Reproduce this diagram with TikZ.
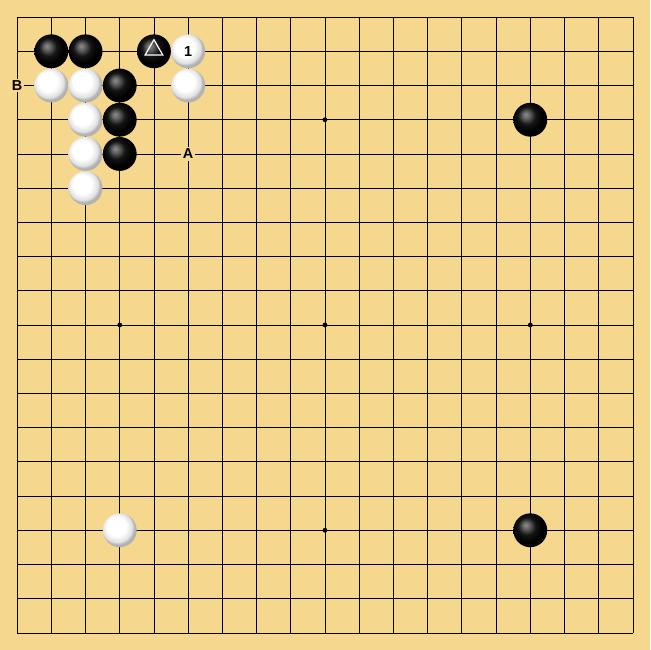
\documentclass[tikz,border=0pt]{standalone}
\usepackage{tikz}
\usepackage{fontspec}
\setsansfont{Liberation Sans}
\usetikzlibrary{positioning,shapes.geometric}
\definecolor{board}{RGB}{245,215,142}

\pgfdeclareradialshading{bball}{\pgfpoint{-7bp}{8bp}}{%
  color(0bp)=(black!45); color(5bp)=(black!60); color(13bp)=(black!92);
  color(22bp)=(black); color(25bp)=(black); color(50bp)=(black)}
\pgfdeclareradialshading{wball}{\pgfpoint{-7bp}{8bp}}{%
  color(0bp)=(white); color(14bp)=(white); color(22bp)=(black!12);
  color(25bp)=(black!30); color(50bp)=(black!30)}

\tikzset{
  stone/.style={circle,inner sep=0pt,minimum size=0.99cm},
  bstone/.style={stone,shading=bball},
  wstone/.style={stone,shading=wball,font=\sffamily\bfseries\fontsize{12}{14}\selectfont},
  trimark/.style={regular polygon,regular polygon sides=3,draw=white,line width=1pt,
    inner sep=0pt,minimum size=0.6cm},
  lbl/.style={fill=board,inner sep=1.5pt,font=\sffamily\bfseries\fontsize{12}{14}\selectfont}
}

\begin{document}
\begin{tikzpicture}[y=-1cm,line width=0.6pt]
  \fill[board] (-0.5,-0.5) rectangle (18.5,18.5);
  \draw (0,0) grid (18,18);
  \foreach \x in {3,9,15}
    \foreach \y in {3,9,15}
      \fill (\x,\y) circle (0.07);

  % black
  \foreach \x/\y in {1/1,2/1,3/2,3/3,3/4,15/3,15/15}
    \node[bstone] at (\x,\y) {};
  \node[bstone] (tri) at (4,1) {};
  \node[trimark] at ([yshift=0.04cm]tri.center) {};

  % white
  \foreach \x/\y in {1/2,2/2,5/2,2/3,2/4,2/5,3/15}
    \node[wstone] at (\x,\y) {};
  \node[wstone] (one) at (5,1) {1};

  % letters
  \node[lbl] (la) at (5,4) {A};
  \node[lbl] (lb) at (0,2) {B};
\end{tikzpicture}
\end{document}
